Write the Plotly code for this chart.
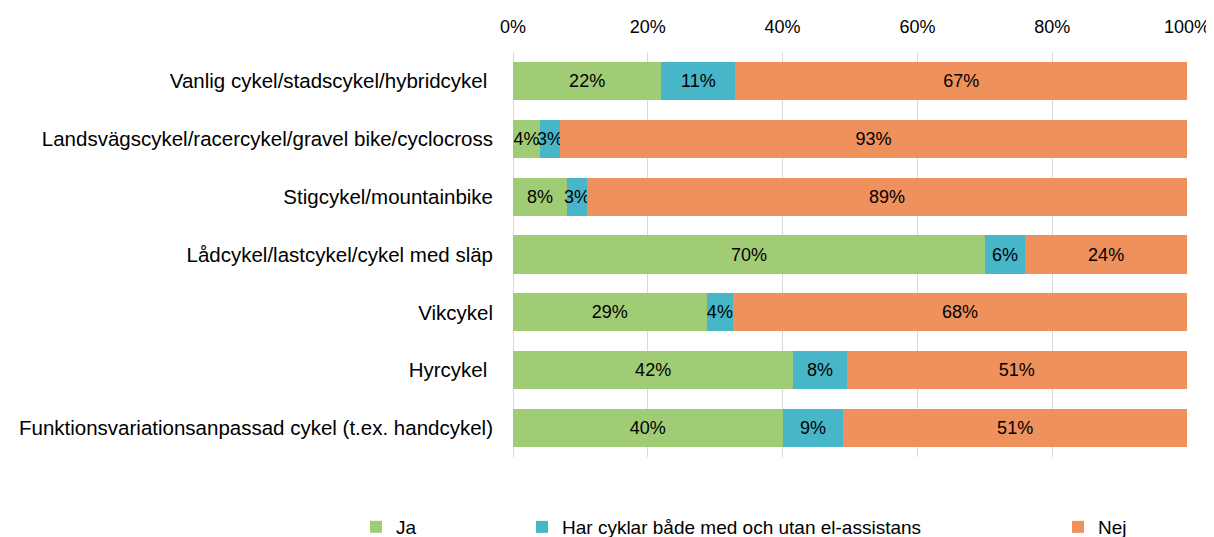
import plotly.graph_objects as go

categories = [
    "Vanlig cykel/stadscykel/hybridcykel ",
    "Landsvägscykel/racercykel/gravel bike/cyclocross",
    "Stigcykel/mountainbike",
    "Lådcykel/lastcykel/cykel med släp",
    "Vikcykel",
    "Hyrcykel ",
    "Funktionsvariationsanpassad cykel (t.ex. handcykel)",
]
ja = [22, 4, 8, 70, 29, 42, 40]
both = [11, 3, 3, 6, 4, 8, 9]
nej = [67, 93, 89, 24, 68, 51, 51]

tick_values = [0, 20, 40, 60, 80, 100]
tick_labels = ["0%", "20%", "40%", "60%", "80%", "100%"]

series_names = ["Ja", "Har cyklar både med och utan el-assistans", "Nej"]
series_values = [ja, both, nej]
colors = ["#A1CC76", "#47B6C8", "#EE915D"]
legends = ["legend", "legend2", "legend3"]

FONT = "Liberation Sans"

fig = go.Figure()
for name, vals, col, lg in zip(series_names, series_values, colors, legends):
    fig.add_trace(go.Bar(
        y=categories, x=vals, name=name, orientation="h",
        marker=dict(color=col, line=dict(width=0)),
        text=[f"{v}%" for v in vals],
        textposition="inside", insidetextanchor="middle", textangle=0,
        textfont=dict(color="black", size=18, family=FONT),
        legend=lg,
    ))

leg_common = dict(orientation="h", xref="container", yref="container",
                  xanchor="left", yanchor="middle", y=1 - 519 / 537,
                  font=dict(size=19, family=FONT, color="black"),
                  bgcolor="rgba(0,0,0,0)", traceorder="normal")

# page body adds an 8px offset; margins compensate so the plot lands where the reference has it
fig.update_layout(
    barmode="stack", barnorm="percent", bargap=0.34,
    width=1214, height=537,
    margin=dict(l=505, r=35, t=44, b=88, autoexpand=False),
    plot_bgcolor="white", paper_bgcolor="white",
    font=dict(family=FONT, size=18, color="black"),
    uniformtext=dict(minsize=18, mode="show"),
    showlegend=True,
    legend=dict(x=348 / 1214, **leg_common),
    legend2=dict(x=514 / 1214, **leg_common),
    legend3=dict(x=1050 / 1214, **leg_common),
    xaxis=dict(side="top", range=[0, 100], tickmode="array",
               tickvals=tick_values, ticktext=tick_labels,
               showgrid=True, gridcolor="#D9D9D9", gridwidth=1,
               zeroline=True, zerolinecolor="#D9D9D9", zerolinewidth=1,
               showline=False, ticks="", ticklabelstandoff=14, automargin=False,
               tickfont=dict(size=18, family=FONT, color="black")),
    yaxis=dict(autorange="reversed", showgrid=False, ticks="",
               ticklabelstandoff=19, showline=False, automargin=False,
               tickfont=dict(size=20.5, family=FONT, color="black")),
)

fig.write_html("out.html")
